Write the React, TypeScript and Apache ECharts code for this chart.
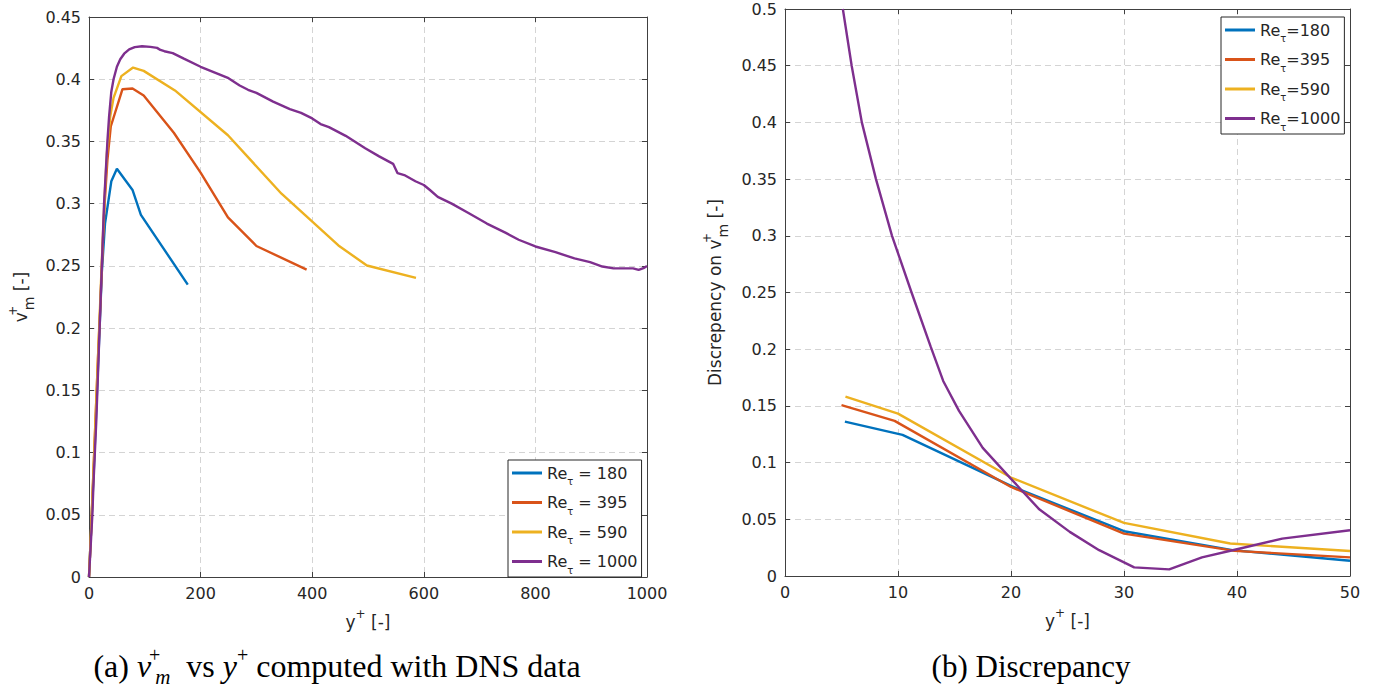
import React, { useEffect, useRef } from 'react';
import * as echarts from 'echarts';

// ---------- data ----------
const reTau = ['180', '395', '590', '1000'];
const lineColors = ['#0072BD', '#D95319', '#EDB120', '#7E2F8E'];

// (a) v_m^+ vs y^+  — [y+, v_m+]
const vm180: number[][] = [[0,0],[4,0.04],[9,0.09],[14,0.145],[19,0.2],[23,0.245],[28.7,0.284],[40,0.318],[50,0.328],[78,0.311],[93,0.291],[177,0.235]];
const vm395: number[][] = [[0,0],[4,0.04],[8,0.085],[12,0.13],[16,0.175],[20,0.215],[24,0.26],[28,0.3],[33,0.335],[39,0.362],[60,0.392],[78,0.3925],[98,0.387],[152,0.357],[200,0.325],[249,0.289],[300,0.266],[390,0.247]];
const vm590: number[][] = [[0,0],[4,0.04],[8,0.085],[12,0.13],[16,0.175],[20,0.22],[24,0.265],[28,0.305],[32,0.34],[38,0.37],[44,0.385],[58,0.4025],[79,0.4094],[98,0.4067],[154,0.391],[249,0.355],[345,0.308],[447,0.2664],[498,0.2503],[586,0.2403]];
const vm1000: number[][] = [[0,0],[3,0.025],[6,0.05],[8,0.075],[10.5,0.1],[13,0.125],[15,0.15],[17,0.175],[19,0.2],[21,0.225],[23,0.25],[25,0.275],[27,0.3],[30,0.325],[33,0.35],[36,0.37],[40,0.39],[44,0.4],[50,0.41],[56,0.416],[63,0.4205],[72,0.424],[82,0.4258],[95,0.4265],[110,0.426],[122,0.4252],[128,0.4235],[135,0.4225],[150,0.421],[170,0.4165],[200,0.41],[230,0.4045],[250,0.4008],[270,0.395],[285,0.3915],[300,0.389],[330,0.382],[360,0.376],[380,0.373],[400,0.3685],[415,0.364],[430,0.3615],[460,0.3545],[495,0.3445],[520,0.338],[545,0.332],[553,0.3245],[565,0.323],[585,0.318],[600,0.315],[611,0.311],[625,0.3055],[650,0.3],[680,0.2925],[713,0.284],[747,0.2765],[770,0.271],[800,0.2656],[836,0.261],[870,0.256],[898,0.253],[920,0.2495],[940,0.248],[975,0.248],[985,0.2468],[995,0.2485],[1000,0.25]];

// (b) discrepancy — [y+, discrepancy]
const disc180: number[][] = [[5.3,0.1362],[10.4,0.1244],[20,0.0794],[30,0.0395],[39.6,0.0228],[50,0.0135]];
const disc395: number[][] = [[5.0,0.1506],[9.7,0.1368],[20,0.0785],[30,0.0374],[39.8,0.0222],[50,0.0164]];
const disc590: number[][] = [[5.35,0.1582],[10,0.1432],[20,0.0868],[30,0.0468],[39.4,0.0287],[50,0.022]];
const disc1000: number[][] = [[5.12,0.5],[5.9,0.45],[6.8,0.4],[8.05,0.35],[9.47,0.3],[11.2,0.25],[12.9,0.202],[14,0.172],[15.4,0.1456],[17.5,0.113],[19.9,0.0868],[22.5,0.0588],[25.2,0.0389],[27.8,0.0228],[30.9,0.0076],[34,0.0058],[36.9,0.0164],[39.9,0.0234],[44,0.033],[50,0.0404]];

const vmSeries = [vm180, vm395, vm590, vm1000];
const discSeries = [disc180, disc395, disc590, disc1000];

const FONT = "'DejaVu Sans', sans-serif";
const SERIF = "'Liberation Serif', 'DejaVu Serif', serif";
const TXT = '#262626';
const AXC = '#404040';

const fmtY = (v: number) => String(Math.round(v * 100) / 100);
const fmtX = (v: number) => String(Math.round(v));

const richName: any = {
  t: { fontFamily: FONT, fontSize: 17, color: TXT, lineHeight: 28, height: 28 },
  tv: { fontFamily: FONT, fontSize: 17, color: TXT, lineHeight: 28, height: 28, padding: [0, 1, 0, 0] },
  p: { fontFamily: FONT, fontSize: 12, color: TXT, height: 12, verticalAlign: 'top', width: 1 },
  p2: { fontFamily: FONT, fontSize: 12, color: TXT, height: 12, verticalAlign: 'top' },
  s: { fontFamily: FONT, fontSize: 14, color: TXT, height: 12, verticalAlign: 'bottom' },
};

const legendRich: any = {
  r: { fontFamily: FONT, fontSize: 16, color: TXT, lineHeight: 22, height: 22 },
  s: { fontFamily: FONT, fontSize: 10, color: TXT, height: 5, verticalAlign: 'bottom' },
};

function mainAxis(gridIndex: number, min: number, max: number, interval: number, isX: boolean, name: string, nameGap: number) {
  return {
    type: 'value',
    gridIndex,
    min,
    max,
    interval,
    position: isX ? 'bottom' : 'left',
    name,
    nameLocation: 'middle',
    nameGap,
    nameTextStyle: { fontFamily: FONT, fontSize: 17, color: TXT, rich: richName },
    axisLine: { show: true, onZero: false, lineStyle: { color: AXC, width: 1 } },
    axisTick: { show: true, inside: true, length: 5, lineStyle: { color: AXC } },
    axisLabel: {
      show: true,
      fontFamily: FONT,
      fontSize: 16,
      color: TXT,
      margin: 8,
      showMinLabel: true,
      showMaxLabel: true,
      formatter: isX ? fmtX : fmtY,
    },
    splitLine: { show: true, lineStyle: { color: '#d4d4d4', type: [6, 4], width: 1 } },
  };
}

function frameAxis(gridIndex: number, min: number, max: number, interval: number, isX: boolean) {
  return {
    type: 'value',
    gridIndex,
    min,
    max,
    interval,
    position: isX ? 'top' : 'right',
    axisLine: { show: true, onZero: false, lineStyle: { color: AXC, width: 1 } },
    axisTick: { show: true, inside: true, length: 5, lineStyle: { color: AXC } },
    axisLabel: { show: false },
    splitLine: { show: false },
  };
}

export default function App() {
  const ref = useRef<HTMLDivElement>(null);
  useEffect(() => {
    if (!ref.current) return;
    const chart = echarts.init(ref.current, undefined, { renderer: 'svg' });

    const series: any[] = [];
    vmSeries.forEach((d, i) => {
      series.push({
        type: 'line',
        name: 'a' + reTau[i],
        xAxisIndex: 0,
        yAxisIndex: 0,
        data: d,
        symbol: 'none',
        lineStyle: { width: 2.4, color: lineColors[i] },
        itemStyle: { color: lineColors[i] },
        z: 3 + i,
      });
    });
    discSeries.forEach((d, i) => {
      series.push({
        type: 'line',
        name: 'b' + reTau[i],
        xAxisIndex: 2,
        yAxisIndex: 2,
        data: d,
        symbol: 'none',
        lineStyle: { width: 2.4, color: lineColors[i] },
        itemStyle: { color: lineColors[i] },
        z: 3 + i,
      });
    });

    const legendBase = {
      orient: 'vertical',
      padding: [2, 4, 2, 4],
      itemGap: 5,
      itemWidth: 30,
      itemHeight: 3,
      icon: 'rect',
      borderColor: '#262626',
      borderWidth: 1,
      borderRadius: 0,
      backgroundColor: '#ffffff',
      selectedMode: false,
      textStyle: { fontFamily: FONT, fontSize: 16, color: TXT, rich: legendRich },
    };

    const option: any = {
      animation: false,
      backgroundColor: '#ffffff',
      grid: [
        { left: 89, top: 17, width: 558, height: 560, containLabel: false },
        { left: 785, top: 9, width: 565, height: 567, containLabel: false },
      ],
      xAxis: [
        mainAxis(0, 0, 1000, 200, true, '{t|y}{p2|+}{t| [-]}', 31),
        frameAxis(0, 0, 1000, 200, true),
        mainAxis(1, 0, 50, 10, true, '{t|y}{p2|+}{t| [-]}', 31),
        frameAxis(1, 0, 50, 10, true),
      ],
      yAxis: [
        mainAxis(0, 0, 0.45, 0.05, false, '{tv|v}{p|+}{s|m}{t| [-]}', 54),
        frameAxis(0, 0, 0.45, 0.05, false),
        mainAxis(1, 0, 0.5, 0.05, false, '{t|Discrepency on }{tv|v}{p|+}{s|m}{t| [-]}', 56),
        frameAxis(1, 0, 0.5, 0.05, false),
      ],
      legend: [
        {
          ...legendBase,
          left: 508,
          top: 460,
          data: reTau.map((r) => 'a' + r),
          formatter: (n: string) => `{r|Re}{s|τ}{r| = ${n.slice(1)}}`,
        },
        {
          ...legendBase,
          left: 1221,
          top: 17,
          data: reTau.map((r) => 'b' + r),
          formatter: (n: string) => `{r|Re}{s|τ}{r|=${n.slice(1)}}`,
        },
      ],
      graphic: [
        {
          type: 'text',
          x: 337,
          y: 666,
          style: {
            text: '{n|(a) }{iv|v}{p|+}{s|m}{n|  vs }{i|y}{p2|+}{n| computed with DNS data}',
            align: 'center',
            verticalAlign: 'middle',
            textAlign: 'center',
            textVerticalAlign: 'middle',
            rich: {
              n: { fontFamily: SERIF, fontSize: 32, color: '#000', lineHeight: 44, height: 44 },
              i: { fontFamily: SERIF, fontSize: 32, fontStyle: 'italic', color: '#000', lineHeight: 44, height: 44 },
              iv: { fontFamily: SERIF, fontSize: 32, fontStyle: 'italic', color: '#000', lineHeight: 44, height: 44, padding: [0, 3, 0, 0] },
              p: { fontFamily: SERIF, fontSize: 20, color: '#000', height: 22, verticalAlign: 'top', width: 1 },
              p2: { fontFamily: SERIF, fontSize: 20, color: '#000', height: 22, verticalAlign: 'top' },
              s: { fontFamily: SERIF, fontSize: 21, fontStyle: 'italic', color: '#000', height: 22, verticalAlign: 'bottom' },
            },
          },
        },
        {
          type: 'text',
          x: 1031,
          y: 666,
          style: {
            text: '(b) Discrepancy',
            fontFamily: SERIF,
            fontSize: 31,
            fill: '#000',
            align: 'center',
            verticalAlign: 'middle',
            textAlign: 'center',
            textVerticalAlign: 'middle',
          },
        },
      ],
      series,
    };

    chart.setOption(option);
    return () => chart.dispose();
  }, []);

  return (
    <div
      ref={ref}
      style={{ position: 'fixed', left: 0, top: 0, width: 1397, height: 691, background: '#fff' }}
    />
  );
}
